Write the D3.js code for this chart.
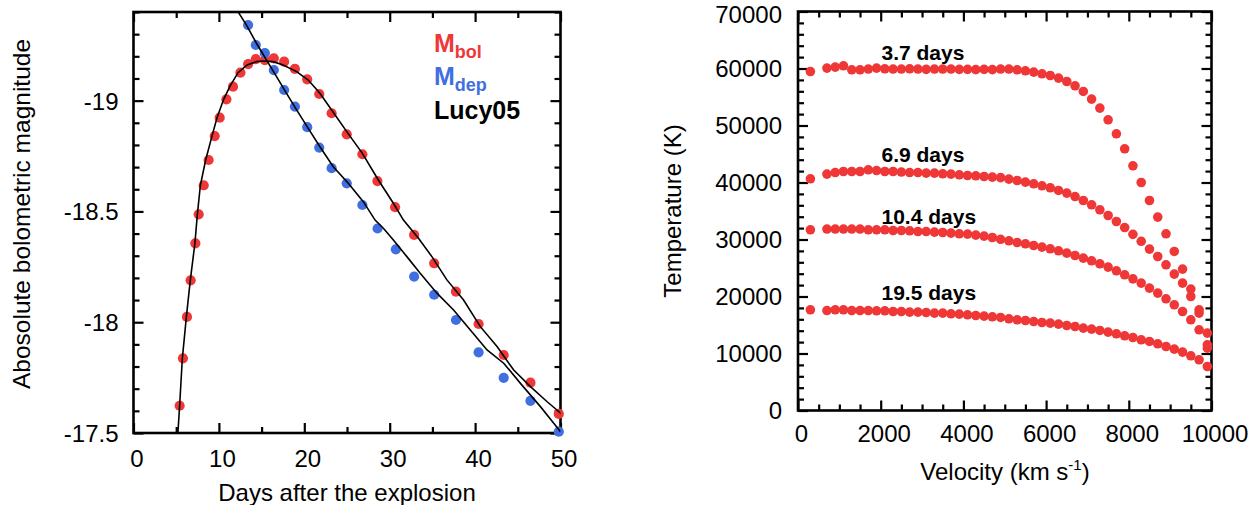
<!DOCTYPE html>
<html><head><meta charset="utf-8">
<script src="https://cdn.jsdelivr.net/npm/d3@7"></script>
<style>body{margin:0;background:#fff}svg{display:block}</style>
</head><body>
<script>
// ---------------- Left panel data ----------------
const bolDays = [5.40,5.79,6.26,6.69,7.24,7.63,8.22,8.80,9.51,10.09,10.88,11.65,12.52,13.42,14.32,15.38,16.43,17.64,18.90,20.34,21.75,23.20,24.97,26.80,28.56,30.63,32.86,35.21,37.76,40.41,43.35,46.48,49.80];
const bolMag = [-17.623,-17.837,-18.024,-18.189,-18.356,-18.487,-18.618,-18.732,-18.840,-18.923,-19.006,-19.063,-19.126,-19.165,-19.187,-19.183,-19.191,-19.176,-19.143,-19.096,-19.030,-18.943,-18.848,-18.758,-18.637,-18.519,-18.394,-18.266,-18.138,-17.992,-17.852,-17.727,-17.586];
const depDays = [13.42,14.32,15.38,16.43,17.64,18.90,20.34,21.75,23.20,24.97,26.80,28.58,30.72,32.86,35.21,37.76,40.41,43.35,46.48,49.80];
const depMag = [-19.341,-19.251,-19.214,-19.138,-19.048,-18.973,-18.880,-18.788,-18.695,-18.627,-18.529,-18.423,-18.329,-18.206,-18.124,-18.010,-17.864,-17.749,-17.645,-17.506];
const lucyBolDays = [5.20,5.40,5.72,6.19,6.65,7.19,7.48,7.83,8.45,9.19,9.78,10.56,11.27,12.24,13.30,14.40,15.18,16.35,17.52,19.10,20.46,21.83,23.20,24.97,26.80,28.67,30.43,31.61,33.37,34.94,36.70,38.65,40.61,42.57,44.52,46.48,48.44,50.12];
const lucyBolMag = [-17.500,-17.623,-17.837,-18.024,-18.189,-18.356,-18.487,-18.618,-18.732,-18.840,-18.923,-19.006,-19.063,-19.126,-19.161,-19.176,-19.179,-19.176,-19.161,-19.131,-19.093,-19.033,-18.958,-18.860,-18.762,-18.642,-18.537,-18.461,-18.379,-18.296,-18.191,-18.100,-17.980,-17.890,-17.784,-17.709,-17.641,-17.586];
const lucyDepDays = [12.10,13.23,14.40,15.58,16.75,17.92,19.10,20.46,21.83,23.39,25.15,26.91,28.29,29.26,30.43,32.01,33.57,35.53,37.48,39.44,41.40,43.35,45.31,47.65,49.21,50.00];
const lucyDepMag = [-19.410,-19.341,-19.259,-19.183,-19.108,-19.033,-18.958,-18.875,-18.792,-18.702,-18.627,-18.544,-18.461,-18.424,-18.371,-18.296,-18.221,-18.131,-18.055,-17.965,-17.875,-17.815,-17.724,-17.619,-17.544,-17.506];
const leftXTicks = [0,10,20,30,40,50];
const leftXMinor = [5,15,25,35,45];
const leftYTicks = [-19,-18.5,-18,-17.5];
const leftLegendMain = ["M","M","Lucy05"];
const leftLegendSub = ["bol","dep",""];

// ---------------- Right panel data ----------------
const velocity = [300,700,900,1100,1300,1500,1700,1900,2100,2300,2500,2700,2900,3100,3300,3500,3700,3900,4100,4300,4500,4700,4900,5100,5300,5500,5700,5900,6100,6300,6500,6700,6900,7100,7300,7500,7700,7900,8100,8300,8500,8700,8900,9100,9300,9500,9700,9900];
const temp3_7 = [59470,60070,60250,60470,59770,59770,59900,60070,59950,59900,59900,59950,59900,59850,59900,59900,59900,59850,59850,59800,59850,59800,59900,59900,59770,59600,59370,59070,58770,58320,57720,56970,55970,54630,53050,51000,48540,45910,42930,40000,36840,33930,31000,27900,24810,21300,17670,13580];
const temp6_9 = [40650,41470,41750,41930,41930,41930,42230,42100,41930,41930,41830,41750,41750,41650,41650,41530,41470,41350,41230,41180,41050,40950,40850,40600,40350,40070,39770,39420,39070,38600,38140,37540,36840,36090,35210,34210,33160,32100,30900,29680,28320,27020,25560,23930,22350,20000,17090,11530];
const temp10_4 = [31700,31830,31830,31830,31830,31830,31700,31700,31700,31580,31580,31530,31400,31400,31300,31230,31120,31000,30950,30770,30600,30350,30040,29770,29470,29250,28950,28670,28370,28020,27610,27190,26740,26260,25740,25160,24510,23810,23100,22350,21470,20600,19600,18540,17370,15910,14160,10950];
const temp19_5 = [17670,17540,17670,17670,17540,17540,17540,17490,17490,17370,17370,17260,17260,17190,17090,17090,16970,16910,16790,16670,16560,16440,16320,16090,15910,15790,15610,15440,15330,15160,14910,14740,14460,14280,14040,13750,13460,13110,12810,12400,12110,11700,11230,10770,10250,9600,8900,7720];
const epochLabels = ["3.7 days","6.9 days","10.4 days","19.5 days"];
const epochLabelVel = [2020,2020,2020,2020];
const epochLabelTemp = [61490,43650,32670,19390];
const rightXTicks = [0,2000,4000,6000,8000,10000];
const rightYTicks = [0,10000,20000,30000,40000,50000,60000,70000];

// ---------------- Drawing ----------------
const FONT = "'Liberation Sans', Arial, Helvetica, sans-serif";
const RED = "#ef3737", BLUE = "#3f6fe0";
const svg = d3.select("body").append("svg").attr("width",1256).attr("height",505)
  .attr("font-family", FONT);
svg.append("rect").attr("width",1256).attr("height",505).attr("fill","#fff");

function tickAxes(g, x, y, xMaj, xMin, yMaj, yMin){
  const [yb, yt] = y.range(); const [xl, xr] = x.range();
  const mk = (axis, tr) => g.append("g").attr("transform", tr).call(axis)
     .call(s => s.select(".domain").remove())
     .call(s => s.selectAll("line").attr("stroke","#000").attr("stroke-width",2.2));
  const M = 10, m = 6;
  mk(d3.axisBottom(x).tickValues(xMaj).tickSize(-M).tickFormat(""), `translate(0,${yb})`);
  mk(d3.axisBottom(x).tickValues(xMin).tickSize(-m).tickFormat(""), `translate(0,${yb})`);
  mk(d3.axisTop(x).tickValues(xMaj).tickSize(-M).tickFormat(""), `translate(0,${yt})`);
  mk(d3.axisTop(x).tickValues(xMin).tickSize(-m).tickFormat(""), `translate(0,${yt})`);
  mk(d3.axisLeft(y).tickValues(yMaj).tickSize(-M).tickFormat(""), `translate(${xl},0)`);
  mk(d3.axisLeft(y).tickValues(yMin).tickSize(-m).tickFormat(""), `translate(${xl},0)`);
  mk(d3.axisRight(y).tickValues(yMaj).tickSize(-M).tickFormat(""), `translate(${xr},0)`);
  mk(d3.axisRight(y).tickValues(yMin).tickSize(-m).tickFormat(""), `translate(${xr},0)`);
  g.append("rect").attr("x", xl).attr("y", yt).attr("width", xr - xl).attr("height", yb - yt)
    .attr("fill","none").attr("stroke","#000").attr("stroke-width",2.6);
}
function labelAxes(g, x, y, xMaj, yMaj, xLabY, yPad){
  const [yb] = y.range(); const [xl] = x.range();
  g.append("g").attr("transform",`translate(0,${yb})`)
    .call(d3.axisBottom(x).tickValues(xMaj).tickSize(0).tickFormat(d => String(d)))
    .call(s => s.select(".domain").remove())
    .attr("font-family", FONT).attr("font-size", 24)
    .selectAll("text").attr("y", xLabY).attr("dy", 0).attr("dx", 3).attr("fill","#000");
  g.append("g").attr("transform",`translate(${xl},0)`)
    .call(d3.axisLeft(y).tickValues(yMaj).tickSize(0).tickPadding(yPad).tickFormat(d => String(d)))
    .call(s => s.select(".domain").remove())
    .attr("font-family", FONT).attr("font-size", 24)
    .selectAll("text").attr("dy", (d,i,n) => (y(d) < 20 ? "0.45em" : "0.35em")).attr("fill","#000");
}

// ---- Left panel ----
const xL = d3.scaleLinear().domain([0,50]).range([133.5,560.5]);
const yL = d3.scaleLinear().domain([-17.5,-19.4]).range([433,12]);
const gL = svg.append("g");
tickAxes(gL, xL, yL, leftXTicks, leftXMinor, leftYTicks,
  yL.ticks(20).filter(v => !leftYTicks.some(t => Math.abs(t - v) < 1e-6)));
labelAxes(gL, xL, yL, leftXTicks, leftYTicks, 34, 15);

gL.append("g").selectAll("circle").data(bolDays.map((d,i)=>[d,bolMag[i]])).join("circle")
  .attr("cx", d => xL(d[0])).attr("cy", d => yL(d[1])).attr("r", 5.1).attr("fill", RED);
gL.append("g").selectAll("circle").data(depDays.map((d,i)=>[d,depMag[i]])).join("circle")
  .attr("cx", d => xL(d[0])).attr("cy", d => yL(d[1])).attr("r", 5.1).attr("fill", BLUE);

svg.append("clipPath").attr("id","clipL").append("rect")
  .attr("x",133.5).attr("y",12).attr("width",427).attr("height",421);
const line = d3.line().x(d => xL(d[0])).y(d => yL(d[1])).curve(d3.curveLinear);
gL.append("path").attr("clip-path","url(#clipL)")
  .attr("d", line(lucyBolDays.map((d,i)=>[d,lucyBolMag[i]])))
  .attr("fill","none").attr("stroke","#000").attr("stroke-width",1.6);
gL.append("path").attr("clip-path","url(#clipL)")
  .attr("d", line(lucyDepDays.map((d,i)=>[d,lucyDepMag[i]])))
  .attr("fill","none").attr("stroke","#000").attr("stroke-width",1.6);

// legend
const legColors = [RED, BLUE, "#000"];
const legY = [52, 85, 119];
leftLegendMain.forEach((t,i) => {
  const tx = gL.append("text").attr("x", 434).attr("y", legY[i])
    .attr("font-weight","bold").attr("font-size", 25).attr("fill", legColors[i]).text(t);
  if (leftLegendSub[i]) tx.append("tspan").attr("font-size", 18).attr("dy", 6).text(leftLegendSub[i]);
});

// titles
gL.append("text").attr("x", 347).attr("y", 501).attr("text-anchor","middle")
  .attr("font-size", 24).text("Days after the explosion");
gL.append("text").attr("transform","translate(30,214) rotate(-90)").attr("text-anchor","middle")
  .attr("font-size", 24.5).text("Abosolute bolometric magnitude");

// ---- Right panel ----
const xR = d3.scaleLinear().domain([0,10000]).range([798,1211.5]);
const yR = d3.scaleLinear().domain([0,70000]).range([410.5,11.5]);
const gR = svg.append("g");
tickAxes(gR, xR, yR, rightXTicks, xR.ticks(20).filter(v => v % 2000 !== 0),
  rightYTicks, yR.ticks(35).filter(v => v % 10000 !== 0));
labelAxes(gR, xR, yR, rightXTicks, rightYTicks, 31, 16);

[temp3_7, temp6_9, temp10_4, temp19_5].forEach(series => {
  gR.append("g").selectAll("circle").data(velocity.map((v,i)=>[v,series[i]])).join("circle")
    .attr("cx", d => xR(d[0])).attr("cy", d => yR(d[1])).attr("r", 4.8).attr("fill", RED);
});
epochLabels.forEach((t,i) => {
  gR.append("text").attr("x", xR(epochLabelVel[i])).attr("y", yR(epochLabelTemp[i]))
    .attr("font-weight","bold").attr("font-size", 21).text(t);
});
const vt = gR.append("text").attr("x", 1005).attr("y", 480).attr("text-anchor","middle").attr("font-size", 24);
vt.append("tspan").text("Velocity (km s");
vt.append("tspan").attr("font-size", 15).attr("dy", -10).text("-1");
vt.append("tspan").attr("dy", 10).text(")");
gR.append("text").attr("transform","translate(681,211) rotate(-90)").attr("text-anchor","middle")
  .attr("font-size", 24).text("Temperature (K)");
</script>
</body></html>
